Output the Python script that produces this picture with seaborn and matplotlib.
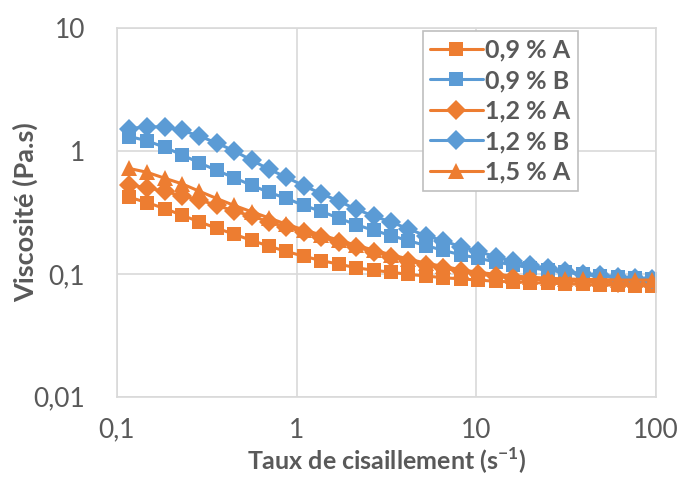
import matplotlib
matplotlib.use('Agg')
import matplotlib.pyplot as plt
import seaborn as sns
import pandas as pd
from matplotlib.ticker import NullLocator

# Données (taux de cisaillement en s-1, viscosité en Pa.s)
taux = [0.117, 0.147, 0.184, 0.230, 0.287, 0.359, 0.449, 0.561, 0.701, 0.877,
        1.096, 1.371, 1.714, 2.143, 2.679, 3.350, 4.188, 5.236, 6.546, 8.185,
        10.23, 12.79, 16.00, 20.00, 25.00, 31.30, 39.10, 48.90, 61.10, 76.40, 95.50]

visc_09A = [0.42, 0.38, 0.34, 0.30, 0.265, 0.235, 0.21, 0.187, 0.168, 0.152,
            0.139, 0.128, 0.12, 0.112, 0.107, 0.103, 0.099, 0.096, 0.093, 0.091,
            0.089, 0.087, 0.086, 0.085, 0.084, 0.083, 0.082, 0.081, 0.081, 0.080, 0.080]
visc_09B = [1.31, 1.21, 1.07, 0.93, 0.80, 0.695, 0.604, 0.526, 0.46, 0.411,
            0.36, 0.322, 0.284, 0.251, 0.226, 0.205, 0.186, 0.170, 0.155, 0.143,
            0.134, 0.125, 0.118, 0.112, 0.107, 0.103, 0.099, 0.096, 0.094, 0.092, 0.091]
visc_12A = [0.53, 0.50, 0.47, 0.43, 0.40, 0.36, 0.325, 0.295, 0.265, 0.24,
            0.218, 0.198, 0.181, 0.165, 0.151, 0.138, 0.127, 0.118, 0.111, 0.105,
            0.100, 0.096, 0.093, 0.091, 0.089, 0.088, 0.087, 0.086, 0.085, 0.085, 0.084]
visc_12B = [1.52, 1.57, 1.57, 1.47, 1.32, 1.16, 1.0, 0.84, 0.71, 0.61,
            0.52, 0.45, 0.39, 0.336, 0.295, 0.264, 0.232, 0.204, 0.186, 0.166,
            0.152, 0.138, 0.126, 0.117, 0.111, 0.105, 0.100, 0.097, 0.094, 0.092, 0.091]
visc_15A = [0.72, 0.67, 0.60, 0.54, 0.47, 0.41, 0.36, 0.32, 0.285, 0.253,
            0.228, 0.207, 0.188, 0.171, 0.156, 0.143, 0.132, 0.122, 0.115, 0.108,
            0.103, 0.099, 0.096, 0.094, 0.092, 0.091, 0.090, 0.090, 0.089, 0.089, 0.089]

noms = ['0,9 % A', '0,9 % B', '1,2 % A', '1,2 % B', '1,5 % A']
series = [visc_09A, visc_09B, visc_12A, visc_12B, visc_15A]
x_ticks = [0.1, 1, 10, 100]
x_labels = ['0,1', '1', '10', '100']
y_ticks = [0.01, 0.1, 1, 10]
y_labels = ['0,01', '0,1', '1', '10']

orange = '#ED7D31'
bleu = '#5B9BD5'
couleurs = [orange, bleu, orange, bleu, orange]
marqueurs = ['s', 's', 'D', 'D', '^']
tailles = [10.5, 10.5, 10.5, 10.5, 12]
gris = '#595959'
grille = '#D9D9D9'

sns.set_style('white')
plt.rcParams['font.family'] = ['Lato', 'DejaVu Sans']
plt.rcParams['mathtext.fontset'] = 'custom'
plt.rcParams['mathtext.rm'] = 'Lato'
plt.rcParams['mathtext.bf'] = 'Lato:bold'

fig = plt.figure(figsize=(6.81, 4.78), dpi=100)
ax = fig.add_axes([0.1718, 0.170, 0.7915, 0.7714])

for nom, visc, c, m, t in zip(noms, series, couleurs, marqueurs, tailles):
    df = pd.DataFrame({'taux': taux, 'visc': visc})
    sns.lineplot(data=df, x='taux', y='visc', color=c, marker=m, markersize=t,
                 markeredgewidth=0, linewidth=2.2, label=nom, ax=ax)

ax.set_xscale('log')
ax.set_yscale('log')
ax.set_xlim(0.1, 100)
ax.set_ylim(0.01, 10)
ax.set_xticks(x_ticks)
ax.set_xticklabels(x_labels)
ax.set_yticks(y_ticks)
ax.set_yticklabels(y_labels)
ax.xaxis.set_minor_locator(NullLocator())
ax.yaxis.set_minor_locator(NullLocator())
ax.tick_params(length=0, labelsize=19, colors=gris)
ax.tick_params(axis='y', pad=23)
ax.tick_params(axis='x', pad=15)

ax.grid(True, color=grille, linewidth=1.2)
ax.set_axisbelow(True)
for s in ax.spines.values():
    s.set_color(grille)
    s.set_linewidth(1.2)

ax.set_xlabel(r'Taux de cisaillement (s$^{\mathbf{-1}}$)', fontsize=18,
              fontweight='bold', color=gris)
ax.set_ylabel('Viscosité (Pa.s)', fontsize=19.5, fontweight='bold', color=gris)
ax.xaxis.set_label_coords(0.5, -0.132)
ax.yaxis.set_label_coords(-0.147, 0.5)

leg = ax.legend(loc='upper right', bbox_to_anchor=(0.855, 0.992),
                frameon=True, fancybox=False, framealpha=1, edgecolor='#BFBFBF',
                handlelength=2.1, handletextpad=0.1, labelspacing=0.3,
                borderpad=0.3, borderaxespad=0,
                prop={'weight': 'bold', 'size': 18})
leg.get_frame().set_linewidth(1.2)
for txt in leg.get_texts():
    txt.set_color(gris)

fig.savefig('out.png', dpi=100)
plt.close()
